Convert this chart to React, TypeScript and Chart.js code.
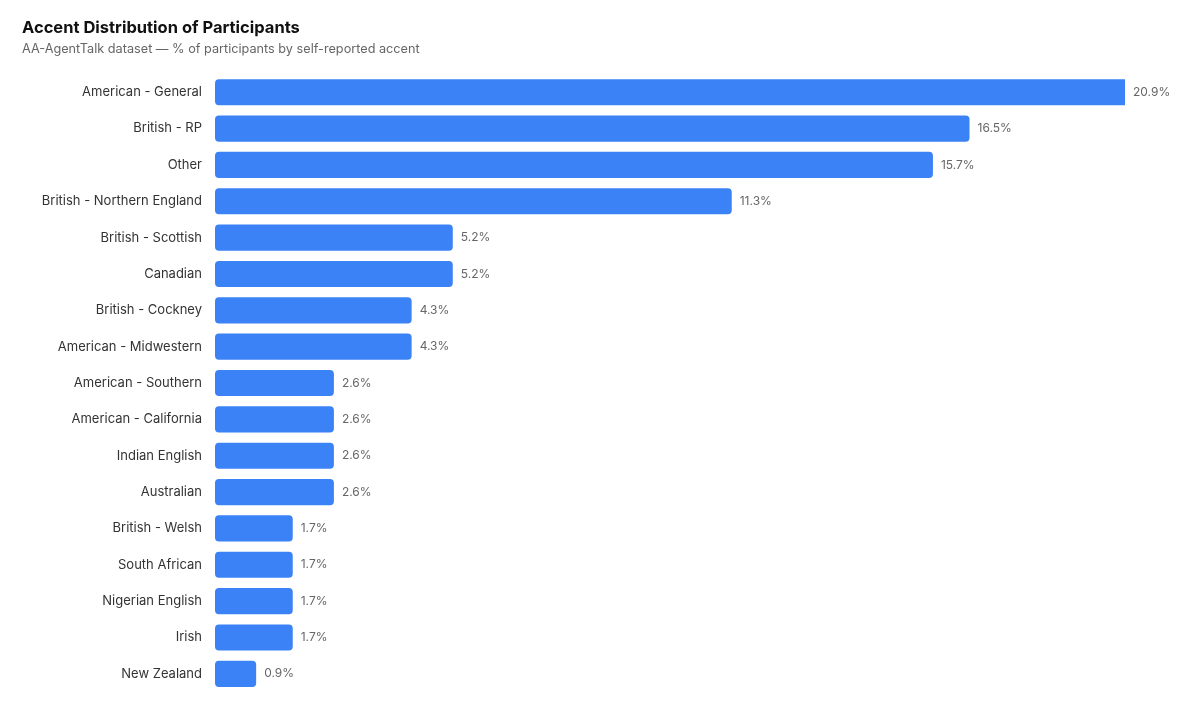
import React, { useEffect, useRef } from 'react';
import { Chart, registerables } from 'chart.js';

Chart.register(...registerables);

const accents = [
  'American - General',
  'British - RP',
  'Other',
  'British - Northern England',
  'British - Scottish',
  'Canadian',
  'British - Cockney',
  'American - Midwestern',
  'American - Southern',
  'American - California',
  'Indian English',
  'Australian',
  'British - Welsh',
  'South African',
  'Nigerian English',
  'Irish',
  'New Zealand',
];

const sharePct = [20.9, 16.5, 15.7, 11.3, 5.2, 5.2, 4.3, 4.3, 2.6, 2.6, 2.6, 2.6, 1.7, 1.7, 1.7, 1.7, 0.9];

const FONT = 'Inter, "Helvetica Neue", Arial, sans-serif';

// writes the % value just right of each bar
const valueLabels = {
  id: 'valueLabels',
  afterDatasetsDraw(chart: any) {
    const { ctx, chartArea } = chart;
    const meta = chart.getDatasetMeta(0);
    ctx.save();
    ctx.font = `12px ${FONT}`;
    ctx.fillStyle = '#666666';
    ctx.textAlign = 'left';
    ctx.textBaseline = 'middle';
    meta.data.forEach((bar: any, i: number) => {
      const x = Math.min(bar.x, chartArea.right) + 8;
      ctx.fillText(sharePct[i].toFixed(1) + '%', x, bar.y);
    });
    ctx.restore();
  },
};

const App = () => {
  const canvasRef = useRef<HTMLCanvasElement | null>(null);
  const chartRef = useRef<Chart | null>(null);

  useEffect(() => {
    document.body.style.margin = '0';
    if (!canvasRef.current) return;

    chartRef.current = new Chart(canvasRef.current, {
      type: 'bar',
      data: {
        labels: accents,
        datasets: [
          {
            data: sharePct,
            backgroundColor: '#3b82f6',
            borderRadius: 4,
            borderSkipped: false,
          },
        ],
      },
      options: {
        indexAxis: 'y',
        animation: false,
        responsive: true,
        maintainAspectRatio: false,
        layout: { padding: { top: 18, left: 22, right: 75, bottom: 24 } },
        scales: {
          x: {
            display: false,
            min: 0,
            max: 19.9,
          },
          y: {
            grid: { display: false, drawTicks: false },
            border: { display: false },
            ticks: {
              padding: 13,
              color: '#333333',
              font: { family: FONT, size: 13 },
            },
            afterFit(scale: any) {
              scale.width = 193;
            },
          },
        },
        plugins: {
          legend: { display: false },
          tooltip: { enabled: false },
          title: {
            display: true,
            text: 'Accent Distribution of Participants',
            align: 'start',
            color: '#111111',
            font: { family: FONT, size: 16.5, weight: 'bold' },
            padding: { top: 0, bottom: 4 },
          },
          subtitle: {
            display: true,
            text: 'AA-AgentTalk dataset — % of participants by self-reported accent',
            align: 'start',
            color: '#666666',
            font: { family: FONT, size: 12.7 },
            padding: { top: 0, bottom: 17 },
          },
        },
      },
      plugins: [valueLabels],
    });

    return () => {
      if (chartRef.current) {
        chartRef.current.destroy();
        chartRef.current = null;
      }
    };
  }, []);

  return (
    <div style={{ width: 1200, height: 716, position: 'relative' }}>
      <canvas ref={canvasRef}></canvas>
    </div>
  );
};

export default App;
